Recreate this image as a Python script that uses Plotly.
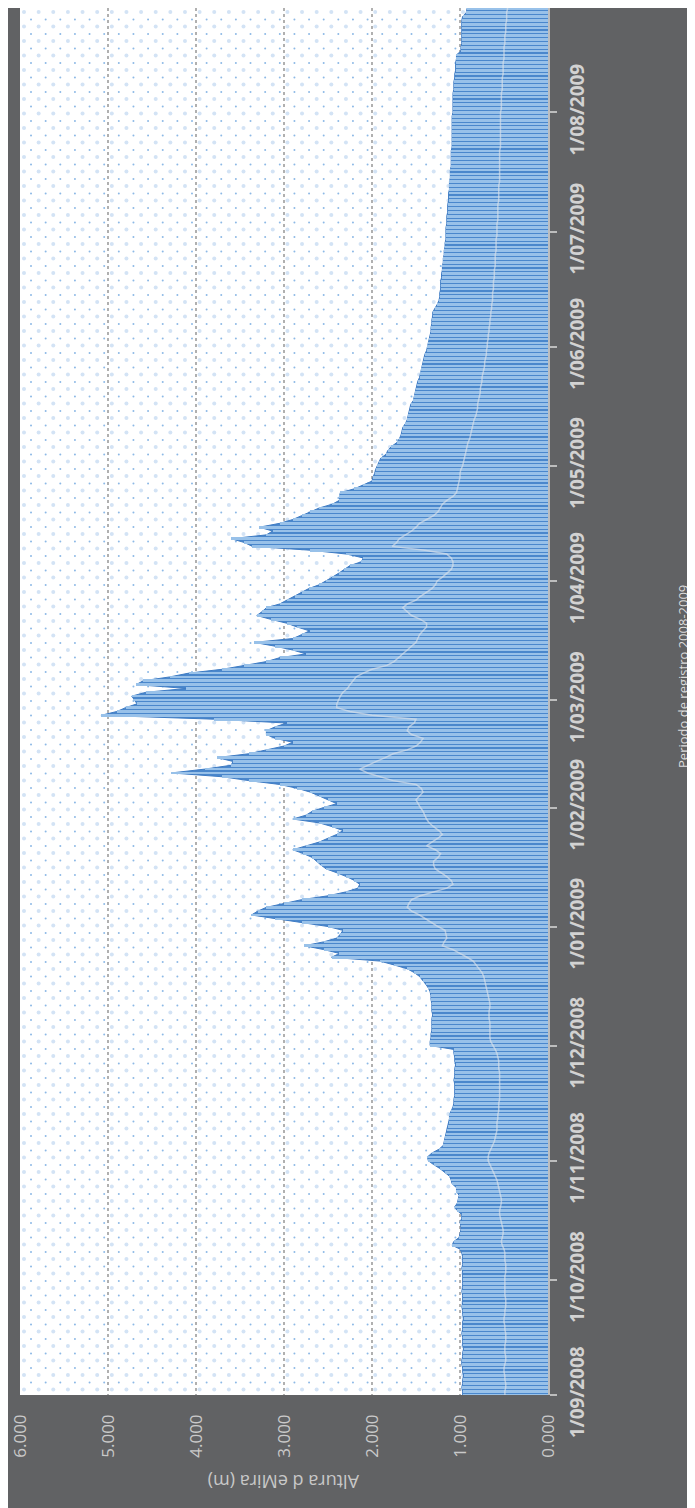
import plotly.graph_objects as go
import pandas as pd
import numpy as np

# Daily series, 1 Sep 2008 .. 29 Aug 2009 (values in m)
start_date = "2008-09-01"
end_date = "2009-08-29"

max_sep = [0.97, 0.97, 0.98, 0.97, 0.97, 0.96, 0.97, 0.97, 0.98, 0.98, 0.97, 0.97, 0.96, 0.97, 0.97,
           0.97, 0.98, 0.97, 0.97, 0.97, 0.96, 0.97, 0.97, 0.98, 0.97, 0.97, 0.97, 0.98, 0.97, 0.97]
max_oct = [0.97, 0.97, 0.97, 0.98, 0.97, 0.97, 0.97, 0.98, 1.00, 1.09, 1.07, 1.01, 1.00, 0.99, 0.99, 1.00,
           0.98, 0.98, 1.03, 1.06, 1.03, 1.02, 1.01, 1.04, 1.04, 1.09, 1.10, 1.12, 1.17, 1.23, 1.30]
max_nov = [1.36, 1.37, 1.32, 1.24, 1.19, 1.18, 1.17, 1.16, 1.15, 1.14, 1.13, 1.12, 1.12, 1.10, 1.08,
           1.07, 1.07, 1.06, 1.06, 1.06, 1.06, 1.07, 1.06, 1.06, 1.06, 1.05, 1.06, 1.06, 1.07, 1.07]
max_dec = [1.34, 1.34, 1.33, 1.33, 1.32, 1.32, 1.32, 1.32, 1.31, 1.32, 1.32, 1.32, 1.33, 1.33, 1.34, 1.36,
           1.39, 1.42, 1.46, 1.52, 1.60, 1.75, 1.91, 2.46, 2.37, 2.55, 2.77, 2.55, 2.40, 2.36, 2.33]
max_jan = [2.50, 2.79, 3.10, 3.37, 3.30, 3.20, 3.00, 2.80, 2.50, 2.30, 2.16, 2.14, 2.20, 2.29, 2.40, 2.52,
           2.58, 2.63, 2.68, 2.78, 2.90, 2.75, 2.60, 2.50, 2.40, 2.33, 2.45, 2.60, 2.90, 2.75, 2.68]
max_feb = [2.55, 2.40, 2.50, 2.60, 2.70, 2.85, 3.05, 3.40, 3.70, 4.28, 3.90, 3.60, 3.58, 3.76,
           3.40, 3.20, 3.00, 2.90, 3.10, 3.20, 3.20, 3.10, 2.97, 3.80, 5.08, 4.90, 4.80, 4.67]
max_mar = [4.70, 4.73, 4.57, 4.11, 4.68, 4.60, 4.30, 4.08, 3.70, 3.45, 3.20, 3.05, 2.75, 2.90, 3.10, 3.34,
           2.90, 2.80, 2.71, 2.85, 2.97, 3.15, 3.31, 3.25, 3.20, 3.05, 2.97, 2.88, 2.80, 2.72, 2.60]
max_apr = [2.52, 2.45, 2.38, 2.32, 2.25, 2.12, 2.10, 2.29, 2.70, 3.36, 3.45, 3.60, 3.20, 3.13, 3.28,
           3.05, 2.90, 2.80, 2.70, 2.60, 2.45, 2.37, 2.37, 2.36, 2.20, 2.10, 2.00, 1.99, 1.97, 1.96]
max_may = [1.94, 1.92, 1.90, 1.84, 1.82, 1.78, 1.72, 1.69, 1.67, 1.66, 1.65, 1.62, 1.60, 1.59, 1.58, 1.57,
           1.56, 1.53, 1.52, 1.51, 1.50, 1.49, 1.48, 1.46, 1.45, 1.44, 1.43, 1.42, 1.41, 1.40, 1.38]
max_jun = [1.37, 1.36, 1.35, 1.34, 1.33, 1.33, 1.32, 1.32, 1.31, 1.31, 1.28, 1.26, 1.24, 1.23, 1.23,
           1.22, 1.22, 1.22, 1.21, 1.21, 1.20, 1.20, 1.19, 1.19, 1.18, 1.18, 1.17, 1.17, 1.16, 1.16]
max_jul = [1.16, 1.16, 1.15, 1.15, 1.15, 1.14, 1.14, 1.14, 1.13, 1.13, 1.13, 1.12, 1.12, 1.12, 1.11, 1.11,
           1.11, 1.10, 1.10, 1.10, 1.10, 1.10, 1.09, 1.09, 1.09, 1.09, 1.09, 1.09, 1.09, 1.09, 1.09]
max_aug = [1.08, 1.08, 1.08, 1.08, 1.08, 1.08, 1.07, 1.07, 1.07, 1.06, 1.06, 1.05, 1.05, 1.05, 1.04,
           1.04, 0.99, 0.99, 0.98, 0.98, 0.98, 0.98, 0.98, 0.98, 0.98, 0.97, 0.93, 0.92, 0.92]

min_sep = [0.49, 0.49, 0.48, 0.48, 0.49, 0.49, 0.50, 0.50, 0.49, 0.48, 0.48, 0.49, 0.49, 0.49, 0.48,
           0.48, 0.48, 0.49, 0.49, 0.50, 0.50, 0.49, 0.49, 0.48, 0.48, 0.48, 0.49, 0.49, 0.49, 0.49]
min_oct = [0.49, 0.49, 0.48, 0.48, 0.48, 0.49, 0.49, 0.49, 0.50, 0.52, 0.53, 0.52, 0.51, 0.51, 0.52, 0.53,
           0.54, 0.55, 0.55, 0.54, 0.53, 0.53, 0.54, 0.55, 0.56, 0.57, 0.58, 0.60, 0.62, 0.64, 0.66]
min_nov = [0.68, 0.68, 0.67, 0.65, 0.63, 0.61, 0.60, 0.59, 0.58, 0.58, 0.58, 0.57, 0.57, 0.56, 0.56,
           0.56, 0.55, 0.55, 0.55, 0.55, 0.55, 0.55, 0.55, 0.55, 0.56, 0.56, 0.56, 0.57, 0.58, 0.60]
min_dec = [0.63, 0.65, 0.66, 0.66, 0.66, 0.66, 0.66, 0.67, 0.67, 0.67, 0.66, 0.66, 0.67, 0.68, 0.69, 0.70,
           0.71, 0.72, 0.73, 0.75, 0.78, 0.82, 0.85, 0.92, 1.00, 1.08, 1.20, 1.18, 1.15, 1.16, 1.17]
min_jan = [1.25, 1.32, 1.40, 1.46, 1.55, 1.60, 1.58, 1.55, 1.45, 1.30, 1.15, 1.08, 1.10, 1.15, 1.22, 1.28,
           1.30, 1.30, 1.25, 1.22, 1.28, 1.38, 1.32, 1.25, 1.20, 1.24, 1.30, 1.35, 1.38, 1.40, 1.42]
min_feb = [1.45, 1.48, 1.50, 1.46, 1.42, 1.44, 1.50, 1.76, 1.90, 2.05, 2.14, 2.05, 1.95, 1.85,
           1.76, 1.60, 1.50, 1.45, 1.42, 1.55, 1.60, 1.58, 1.52, 1.50, 2.00, 2.25, 2.40, 2.40]
min_mar = [2.38, 2.36, 2.33, 2.28, 2.25, 2.22, 2.18, 2.10, 2.00, 1.83, 1.75, 1.70, 1.65, 1.60, 1.54, 1.50,
           1.48, 1.46, 1.42, 1.38, 1.38, 1.45, 1.55, 1.60, 1.65, 1.60, 1.50, 1.45, 1.38, 1.32, 1.28]
min_apr = [1.26, 1.20, 1.15, 1.10, 1.08, 1.08, 1.10, 1.15, 1.40, 1.77, 1.72, 1.69, 1.62, 1.55, 1.50,
           1.46, 1.38, 1.30, 1.25, 1.22, 1.20, 1.15, 1.08, 1.04, 1.03, 1.02, 1.01, 1.00, 1.00, 0.99]
min_may = [0.97, 0.96, 0.95, 0.94, 0.93, 0.92, 0.91, 0.89, 0.88, 0.87, 0.86, 0.85, 0.84, 0.82, 0.81, 0.80,
           0.80, 0.79, 0.78, 0.77, 0.77, 0.76, 0.75, 0.75, 0.74, 0.73, 0.72, 0.72, 0.71, 0.70, 0.70]
min_jun = [0.69, 0.69, 0.68, 0.68, 0.67, 0.67, 0.66, 0.66, 0.65, 0.65, 0.64, 0.64, 0.63, 0.63, 0.63,
           0.62, 0.62, 0.62, 0.61, 0.61, 0.61, 0.60, 0.60, 0.60, 0.60, 0.59, 0.59, 0.59, 0.59, 0.58]
min_jul = [0.58, 0.58, 0.58, 0.57, 0.57, 0.57, 0.57, 0.57, 0.56, 0.56, 0.56, 0.56, 0.56, 0.55, 0.55, 0.55,
           0.55, 0.55, 0.55, 0.55, 0.55, 0.55, 0.54, 0.54, 0.54, 0.54, 0.54, 0.54, 0.54, 0.54, 0.54]
min_aug = [0.54, 0.53, 0.53, 0.53, 0.53, 0.53, 0.52, 0.52, 0.52, 0.52, 0.51, 0.51, 0.51, 0.51, 0.50,
           0.50, 0.50, 0.50, 0.49, 0.49, 0.49, 0.48, 0.48, 0.48, 0.47, 0.47, 0.47, 0.46, 0.46]

month_ticks = ["2008-09-01", "2008-10-01", "2008-11-01", "2008-12-01", "2009-01-01", "2009-02-01",
               "2009-03-01", "2009-04-01", "2009-05-01", "2009-06-01", "2009-07-01", "2009-08-01"]
month_labels = ["1/09/2008", "1/10/2008", "1/11/2008", "1/12/2008", "1/01/2009", "1/02/2009",
                "1/03/2009", "1/04/2009", "1/05/2009", "1/06/2009", "1/07/2009", "1/08/2009"]
value_ticks = [0, 1, 2, 3, 4, 5, 6]
value_labels = ["0.000", "1.000", "2.000", "3.000", "4.000", "5.000", "6.000"]

dates = pd.date_range(start_date, end_date, freq="D")
max_vals = (max_sep + max_oct + max_nov + max_dec + max_jan + max_feb +
            max_mar + max_apr + max_may + max_jun + max_jul + max_aug)
min_vals = (min_sep + min_oct + min_nov + min_dec + min_jan + min_feb +
            min_mar + min_apr + min_may + min_jun + min_jul + min_aug)

y_top = "2009-08-28 05:00"
y_range = ["2008-09-01", y_top]

fig = go.Figure()

# dotted background texture of the plot area (decoration only)
px_per_day = 3.84
px_per_unit = 87.8
t0 = pd.Timestamp(y_top)
rows = np.arange(0, 1390, 14.5)
cols = np.arange(4, 528, 14.6)
big_x, big_y, small_x, small_y = [], [], [], []
for r in rows:
    for c in cols:
        big_x.append(6 - c / px_per_unit)
        big_y.append(t0 - pd.Timedelta(days=(r + 4) / px_per_day))
        small_x.append(6 - (c + 7) / px_per_unit)
        small_y.append(t0 - pd.Timedelta(days=(r + 11.5) / px_per_day))
fig.add_trace(go.Scatter(x=big_x, y=big_y, mode="markers", hoverinfo="skip",
                         marker=dict(size=4, color="#d3e3f5"), showlegend=False))
fig.add_trace(go.Scatter(x=small_x, y=small_y, mode="markers", hoverinfo="skip",
                         marker=dict(size=2, color="#8db9e6"), showlegend=False))

# dark area envelope
fig.add_trace(go.Scatter(
    x=max_vals, y=dates, mode="lines", fill="tozerox",
    fillcolor="#4a87cc", line=dict(color="#3f7cc4", width=1), showlegend=False
))

# light daily bars on top (overlay axes)
fig.add_trace(go.Bar(
    x=max_vals, y=dates, orientation="h", width=0.7 * 86400000,
    marker=dict(color="#98c1e9", line=dict(width=0)),
    xaxis="x2", yaxis="y2", showlegend=False
))

# second series, light line
fig.add_trace(go.Scatter(
    x=min_vals, y=dates, mode="lines",
    line=dict(color="rgba(220,226,234,0.65)", width=1.5),
    xaxis="x2", yaxis="y2", showlegend=False
))

fig.update_layout(
    width=695, height=1508,
    margin=dict(l=12, r=155, t=0, b=121, pad=0),
    paper_bgcolor="#616264",
    plot_bgcolor="white",
    font=dict(family="Open Sans", color="#cfcfcf"),
    bargap=0,
    xaxis=dict(
        range=[6, 0], tickvals=value_ticks, ticktext=value_labels,
        tickangle=-90, tickfont=dict(size=17, color="#c9c9c9"),
        showgrid=True, gridcolor="#b0b0b0", gridwidth=2, griddash="dot",
        zeroline=False, showline=False, ticks="", ticklabelstandoff=15,
        ticklabeloverflow="allow", automargin=False,
    ),
    yaxis=dict(
        type="date", range=y_range, side="right",
        tickvals=month_ticks, ticktext=month_labels, tickangle=-90,
        tickfont=dict(size=19, color="#d2d2d2", family="Open Sans", weight="bold"),
        showgrid=False, zeroline=False,
        showline=True, linecolor="#bdbdbd", linewidth=2,
        ticks="outside", ticklen=7, tickcolor="#bdbdbd", tickwidth=2,
        ticklabelstandoff=4, ticklabeloverflow="allow", automargin=False,
    ),
    xaxis2=dict(range=[6, 0], overlaying="x", anchor="y2", visible=False),
    yaxis2=dict(type="date", range=y_range, overlaying="y", anchor="x2", visible=False),
    annotations=[
        dict(text="Periodo de registro 2008-2009", xref="paper", yref="paper",
             x=1.2557, y=0.5177, textangle=-90, showarrow=False,
             xanchor="center", yanchor="middle",
             font=dict(size=13, color="#dcdcdc")),
        dict(text="Altura d eMira (m)", xref="paper", yref="paper",
             x=0.5, y=-0.0627, textangle=180, showarrow=False,
             xanchor="center", yanchor="middle",
             font=dict(size=18, color="#c8c8c8")),
    ],
)

fig.write_html("out.html")
